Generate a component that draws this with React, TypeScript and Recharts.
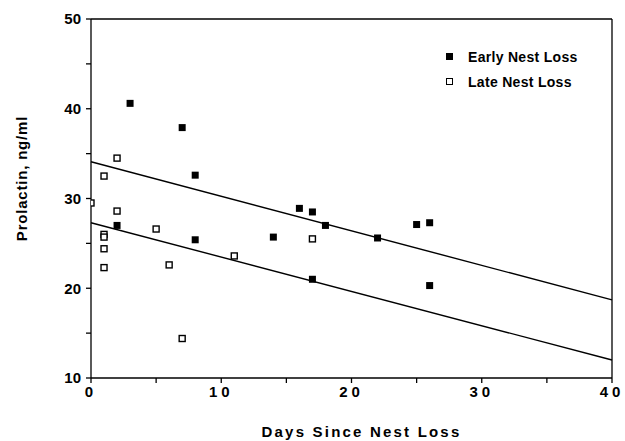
import React from 'react';
import {
	ScatterChart,
	Scatter,
	XAxis,
	YAxis,
	ReferenceLine,
	Legend,
	Label,
} from 'recharts';

// values
const earlyDays = [3, 7, 8, 2, 8, 14, 16, 17, 18, 17, 22, 25, 26, 26];
const earlyProlactin = [40.6, 37.9, 32.6, 27.0, 25.4, 25.7, 28.9, 28.5, 27.0, 21.0, 25.6, 27.1, 27.3, 20.3];

const lateDays = [0, 1, 2, 2, 1, 1, 1, 1, 5, 6, 7, 11, 17];
const lateProlactin = [29.5, 32.5, 34.5, 28.6, 26.0, 25.7, 24.4, 22.3, 26.6, 22.6, 14.4, 23.6, 25.5];

// regression line end points (day, prolactin)
const upperFit = [
	{ x: 0, y: 34.1 },
	{ x: 40, y: 18.7 },
];
const lowerFit = [
	{ x: 0, y: 27.3 },
	{ x: 40, y: 12.0 },
];

const xTicks = [0, 5, 10, 15, 20, 25, 30, 35, 40];
const yTicks = [10, 15, 20, 25, 30, 35, 40, 45, 50];

const seriesNames = ['Early Nest Loss', 'Late Nest Loss'];

const earlyData = earlyDays.map((d, i) => ({ day: d, prolactin: earlyProlactin[i] }));
const lateData = lateDays.map((d, i) => ({ day: d, prolactin: lateProlactin[i] }));

const FONT = '"Liberation Sans", Arial, Helvetica, sans-serif';

const FilledSquare = (props: any) => {
	const { cx, cy } = props;
	return <rect x={cx - 3.5} y={cy - 3.5} width={7} height={7} fill="#000" />;
};

const OpenSquare = (props: any) => {
	const { cx, cy } = props;
	return <rect x={cx - 3} y={cy - 3} width={6} height={6} fill="#fff" stroke="#000" strokeWidth={1.4} />;
};

const tickLabel = (v: number) => (v % 10 === 0 ? String(v) : '');

const LegendBox = () => (
	<div style={{ fontFamily: FONT, fontWeight: 700, fontSize: 14, color: '#000' }}>
		{seriesNames.map((name, i) => (
			<div key={name} style={{ display: 'flex', alignItems: 'center', height: 25 }}>
				<span
					style={{
						display: 'inline-block',
						width: i === 0 ? 7 : 5,
						height: i === 0 ? 7 : 5,
						background: i === 0 ? '#000' : '#fff',
						border: i === 0 ? 'none' : '1.2px solid #000',
						marginRight: 15,
					}}
				/>
				<span style={{ letterSpacing: 0.3 }}>{name}</span>
			</div>
		))}
	</div>
);

export default function App() {
	return (
		<div style={{ position: 'absolute', left: 0, top: 0, width: 625, height: 441, background: '#fff' }}>
			<ScatterChart width={625} height={441} margin={{ top: 19, right: 13, bottom: 0, left: 0 }}>
				<XAxis
					type="number"
					dataKey="day"
					domain={[0, 40]}
					ticks={xTicks}
					tickFormatter={tickLabel}
					allowDataOverflow
					height={63}
					tickSize={5}
					tickMargin={3}
					stroke="#000"
					strokeWidth={1.3}
					tick={{ fill: '#000', fontSize: 15, fontWeight: 700, fontFamily: FONT, letterSpacing: 4 }}
				>
					<Label
						value="Days Since Nest Loss"
						position="insideBottom"
						offset={4}
						dx={10}
						style={{ fill: '#000', fontSize: 15, fontWeight: 700, fontFamily: FONT, letterSpacing: 2.2 }}
					/>
				</XAxis>
				<YAxis
					type="number"
					dataKey="prolactin"
					domain={[10, 50]}
					ticks={yTicks}
					tickFormatter={tickLabel}
					allowDataOverflow
					width={91}
					tickSize={5}
					tickMargin={5}
					stroke="#000"
					strokeWidth={1.3}
					tick={{ fill: '#000', fontSize: 15, fontWeight: 700, fontFamily: FONT }}
				>
					<Label
						content={({ viewBox }: any) => {
							const cx = viewBox.x + 21;
							const cy = viewBox.y + viewBox.height / 2 - 20;
							return (
								<text
									x={cx}
									y={cy}
									transform={`rotate(-90 ${cx} ${cy})`}
									textAnchor="middle"
									dominantBaseline="central"
									fill="#000"
									fontSize={15}
									fontWeight={700}
									fontFamily={FONT}
									letterSpacing={0.8}
								>
									Prolactin,  ng/ml
								</text>
							);
						}}
					/>
				</YAxis>
				<ReferenceLine y={50} stroke="#000" strokeWidth={1.3} />
				<ReferenceLine x={40} stroke="#000" strokeWidth={1.3} />
				<ReferenceLine
					segment={upperFit}
					stroke="#000"
					strokeWidth={1.4}
				/>
				<ReferenceLine
					segment={lowerFit}
					stroke="#000"
					strokeWidth={1.4}
				/>
				<Scatter
					name={seriesNames[1]}
					data={lateData}
					shape={OpenSquare}
					isAnimationActive={false}
				/>
				<Scatter
					name={seriesNames[0]}
					data={earlyData}
					shape={FilledSquare}
					isAnimationActive={false}
				/>
				<Legend
					layout="vertical"
					align="center"
					verticalAlign="middle"
					content={() => <LegendBox />}
					wrapperStyle={{ top: 44, left: 446, width: 170, height: 50 }}
				/>
			</ScatterChart>
		</div>
	);
}
